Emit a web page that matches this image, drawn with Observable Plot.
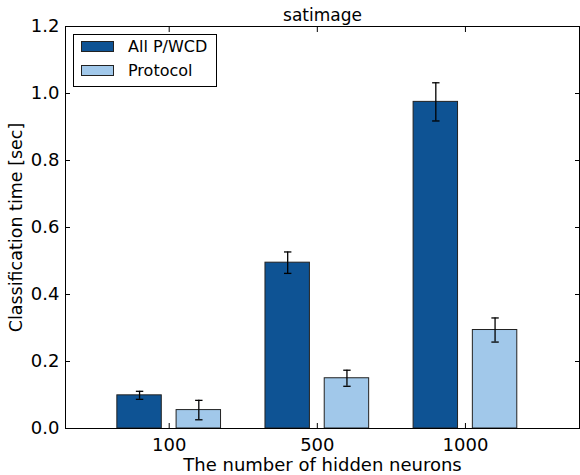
<!DOCTYPE html>
<html>
<head>
<meta charset="utf-8">
<script src="https://cdn.jsdelivr.net/npm/d3@7"></script>
<script src="https://cdn.jsdelivr.net/npm/@observablehq/plot@0.6"></script>
<style>
  body { margin: 0; background: #fff; }
  #wrap { position: relative; width: 580px; height: 475px; font-family: "DejaVu Sans", sans-serif; }
  #legend { position: absolute; left: 73px; top: 34px; width: 144px; height: 53px; border: 1px solid #000; background: #fff; box-sizing: border-box; font-size: 16px; }
  .item { position: absolute; left: 7px; display: flex; align-items: center; }
  .sw { width: 33px; height: 11px; border: 1px solid #222; box-sizing: border-box; margin-right: 14px; }
</style>
</head>
<body>
<div id="wrap"></div>
<script>
const title = "satimage";
const neurons = ["100", "500", "1000"];
const seriesNames = ["All P/WCD", "Protocol"];
const allPWCD = [0.099, 0.495, 0.975];
const allPWCDErr = [0.012, 0.032, 0.057];
const protocol = [0.055, 0.150, 0.294];
const protocolErr = [0.029, 0.024, 0.036];
const yTicks = [0, 0.2, 0.4, 0.6, 0.8, 1.0, 1.2];
const colors = ["#0e5394", "#a1c8ea"];

const offsets = [-0.2, 0.2];
const halfWidth = 0.15;
const capHalf = 0.025;

const rows = [];
neurons.forEach((n, i) => {
  rows.push({i, s: 0, value: allPWCD[i], err: allPWCDErr[i]});
  rows.push({i, s: 1, value: protocol[i], err: protocolErr[i]});
});
const cx = d => d.i + offsets[d.s];

const chart = Plot.plot({
  width: 580,
  height: 475,
  marginLeft: 65,
  marginRight: 1,
  marginTop: 26,
  marginBottom: 47,
  style: {fontFamily: "DejaVu Sans", fontSize: "17px", color: "#000", background: "#fff"},
  x: {type: "linear", domain: [-0.70, 2.77]},
  y: {domain: [0, 1.2]},
  marks: [
    Plot.rectY(rows, {x1: d => cx(d) - halfWidth, x2: d => cx(d) + halfWidth, y1: 0, y2: "value",
      fill: d => colors[d.s], stroke: "#222", strokeWidth: 1}),
    Plot.ruleX(rows, {x: cx, y1: d => d.value - d.err, y2: d => d.value + d.err, stroke: "#000", strokeWidth: 1.3}),
    Plot.link(rows, {x1: d => cx(d) - capHalf, x2: d => cx(d) + capHalf, y1: d => d.value + d.err, y2: d => d.value + d.err, stroke: "#000", strokeWidth: 1.3}),
    Plot.link(rows, {x1: d => cx(d) - capHalf, x2: d => cx(d) + capHalf, y1: d => d.value - d.err, y2: d => d.value - d.err, stroke: "#000", strokeWidth: 1.3}),
    Plot.frame({stroke: "#000", strokeWidth: 1}),
    // inward ticks
    Plot.axisX({anchor: "bottom", ticks: [0, 1, 2], tickSize: -5, tickFormat: () => "", label: null}),
    Plot.axisX({anchor: "top", ticks: [0, 1, 2], tickSize: -5, tickFormat: () => "", label: null}),
    Plot.axisY({anchor: "left", ticks: yTicks, tickSize: -5, tickFormat: () => "", label: null}),
    Plot.axisY({anchor: "right", ticks: yTicks, tickSize: -5, tickFormat: () => "", label: null}),
    // tick labels
    Plot.axisX({anchor: "bottom", ticks: [0, 1, 2], tickSize: 0, tickPadding: 10, tickFormat: i => neurons[i], label: null, fontSize: 18}),
    Plot.axisY({anchor: "left", ticks: yTicks, tickSize: 0, tickPadding: 6, tickFormat: d3.format(".1f"), label: null, fontSize: 18}),
    // titles
    Plot.text([title], {frameAnchor: "top", dy: -11, textAnchor: "middle", lineAnchor: "middle", fontSize: 17}),
    Plot.text(["The number of hidden neurons"], {frameAnchor: "bottom", dy: 37, textAnchor: "middle", lineAnchor: "middle", fontSize: 18}),
    Plot.text(["Classification time [sec]"], {frameAnchor: "left", dx: -49, rotate: -90, textAnchor: "middle", lineAnchor: "middle", fontSize: 17.5})
  ]
});

const wrap = document.getElementById("wrap");
wrap.appendChild(chart);
chart.style.position = "absolute";
chart.style.left = "0px";
chart.style.top = "0px";

const legend = document.createElement("div");
legend.id = "legend";
seriesNames.forEach((name, k) => {
  const item = document.createElement("div");
  item.className = "item";
  item.style.top = (k === 0 ? 2 : 26) + "px";
  const sw = document.createElement("div");
  sw.className = "sw";
  sw.style.background = colors[k];
  const t = document.createElement("span");
  t.textContent = name;
  item.appendChild(sw);
  item.appendChild(t);
  legend.appendChild(item);
});
wrap.appendChild(legend);
</script>
</body>
</html>
